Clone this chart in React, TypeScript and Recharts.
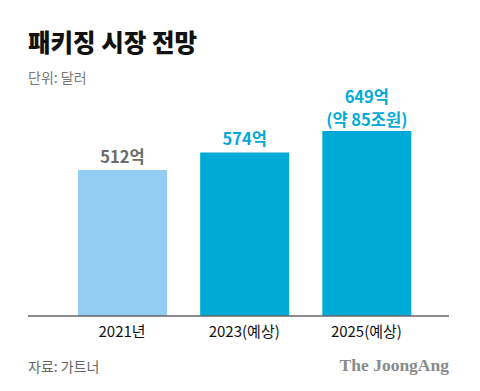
import React from "react";
import { BarChart, Bar, XAxis, YAxis, Cell, LabelList } from "recharts";

const categories = ["2021년", "2023(예상)", "2025(예상)"];
const values = [512, 574, 649];
const valueLabels = ["512억", "574억", "649억"];
const subLabels = ["", "", "(약 85조원)"];
const barColors = ["#93CDF2", "#00AAD6", "#00AAD6"];
const labelColors = ["#6b6b6b", "#00AAD6", "#00AAD6"];

const data = categories.map((c, i) => ({
  name: c,
  value: values[i],
  label: valueLabels[i],
  sub: subLabels[i],
}));

const KFONT = "'Noto Sans CJK KR', 'Noto Sans', sans-serif";

const renderLabel = (props: any) => {
  const { x, y, width, index } = props;
  const cx = x + width / 2;
  const d = data[index];
  const color = labelColors[index];
  if (d.sub) {
    return (
      <g>
        <text x={cx} y={y - 28} textAnchor="middle" fill={color} fontSize={16.5} fontWeight={700} fontFamily={KFONT}>
          {d.label}
        </text>
        <text x={cx} y={y - 5} textAnchor="middle" fill={color} fontSize={16.5} fontWeight={700} fontFamily={KFONT}>
          {d.sub}
        </text>
      </g>
    );
  }
  return (
    <text x={cx} y={y - 7} textAnchor="middle" fill={color} fontSize={16.5} fontWeight={700} fontFamily={KFONT}>
      {d.label}
    </text>
  );
};

export default function App() {
  return (
    <div style={{ position: "absolute", left: 0, top: 0, width: 480, height: 391, background: "#fff" }}>
      <BarChart
        width={480}
        height={391}
        data={data}
        margin={{ top: 116.5, right: 31, bottom: 0, left: 28 }}
        barCategoryGap={0}
      >
        <XAxis
          dataKey="name"
          axisLine={{ stroke: "#666", strokeWidth: 1.5 }}
          tickLine={false}
          padding={{ left: 33, right: 21.5 }}
          tick={{ fill: "#111", fontSize: 15, fontFamily: KFONT }}
          tickMargin={4}
          interval={0}
          height={75}
        />
        <YAxis hide domain={[0, 700]} />
        <Bar dataKey="value" barSize={89} isAnimationActive={false}>
          {data.map((d, i) => (
            <Cell key={d.name} fill={barColors[i]} />
          ))}
          <LabelList dataKey="value" content={renderLabel} />
        </Bar>
      </BarChart>
      <svg
        width={480}
        height={391}
        style={{ position: "absolute", left: 0, top: 0, pointerEvents: "none" }}
      >
        <text x={28} y={52} fontSize={24.5} fontWeight={900} fill="#111" fontFamily={KFONT}>
          패키징 시장 전망
        </text>
        <text x={28} y={83} fontSize={14} fill="#777" fontFamily={KFONT}>
          단위: 달러
        </text>
        <text x={28} y={372} fontSize={14} fill="#666" fontFamily={KFONT}>
          자료: 가트너
        </text>
        <text
          x={449}
          y={371}
          textAnchor="end"
          fontSize={17.5}
          fontWeight={700}
          fill="#8a8a8a"
          fontFamily="'Liberation Serif', 'DejaVu Serif', serif"
        >
          The JoongAng
        </text>
      </svg>
    </div>
  );
}
